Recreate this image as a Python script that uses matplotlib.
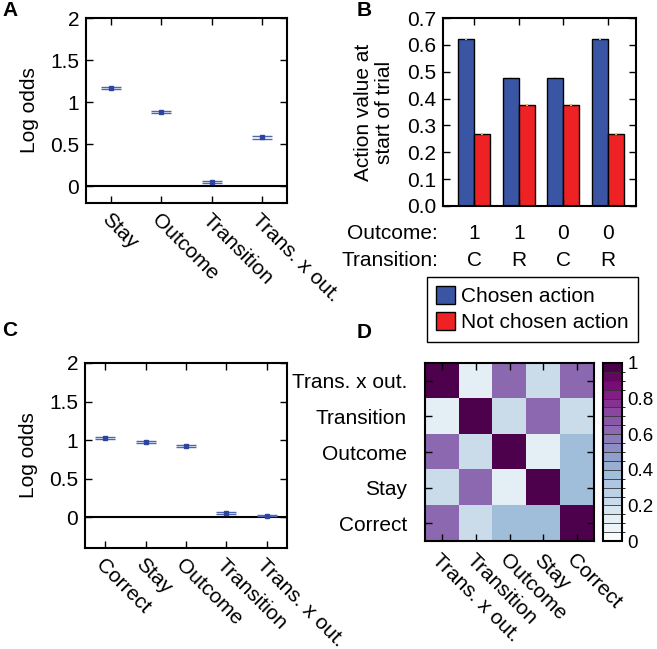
import matplotlib
matplotlib.use('Agg')
import matplotlib.pyplot as plt
import numpy as np
from matplotlib.colors import BoundaryNorm
from matplotlib.patches import Patch

plt.rcParams['font.family'] = ['Liberation Sans', 'DejaVu Sans']
plt.rcParams['font.size'] = 15

# panel A: logistic regression, model data
a_labels = ['Stay', 'Outcome', 'Transition', 'Trans. x out.']
a_vals = [1.17, 0.88, 0.05, 0.58]
a_err = [0.015, 0.015, 0.015, 0.013]

# panel B: action values
b_outcome = ['1', '1', '0', '0']
b_transition = ['C', 'R', 'C', 'R']
b_chosen = [0.62, 0.478, 0.478, 0.62]
b_not_chosen = [0.268, 0.375, 0.375, 0.268]
b_chosen_err = [0.003, 0.003, 0.003, 0.003]
b_not_chosen_err = [0.003, 0.003, 0.003, 0.003]

# panel C: logistic regression with correct predictor
c_labels = ['Correct', 'Stay', 'Outcome', 'Transition', 'Trans. x out.']
c_vals = [1.03, 0.97, 0.92, 0.05, 0.02]
c_err = [0.015, 0.012, 0.015, 0.013, 0.01]

# panel D: predictor correlations
d_labels = ['Trans. x out.', 'Transition', 'Outcome', 'Stay', 'Correct']
d_matrix = np.array([
    [1.00, 0.10, 0.62, 0.22, 0.62],
    [0.10, 1.00, 0.22, 0.62, 0.20],
    [0.62, 0.22, 1.00, 0.10, 0.36],
    [0.22, 0.62, 0.10, 1.00, 0.36],
    [0.62, 0.22, 0.36, 0.36, 1.00],
])

W, H = 657, 649
fig = plt.figure(figsize=(W / 100, H / 100), dpi=100)


def px_axes(l, t, r, b):
    return fig.add_axes([l / W, 1 - b / H, (r - l) / W, (b - t) / H])


def style(ax):
    for s in ax.spines.values():
        s.set_linewidth(1.5)
    ax.tick_params(direction='in', length=5, width=1, top=True, right=True, pad=5)


def fmt_num(v):
    return ('%g' % v)


def log_odds_panel(ax, labels, vals, err, ylim):
    x = np.arange(len(labels))
    ax.axhline(0, color='black', lw=1.5)
    ax.errorbar(x, vals, yerr=err, fmt='s', ms=3, color='#2b45a0',
                ecolor='#4f66b5', elinewidth=0.8, capsize=7.5, capthick=1)
    ax.set_xlim(-0.5, len(labels) - 0.5)
    ax.set_ylim(*ylim)
    ax.set_xticks(x)
    ax.set_xticklabels(labels, rotation=-45, ha='left', va='top',
                       rotation_mode='anchor')
    yt = [0, 0.5, 1, 1.5, 2]
    ax.set_yticks(yt)
    ax.set_yticklabels([fmt_num(v) for v in yt])
    ax.set_ylabel('Log odds', labelpad=8)
    style(ax)


# A
axA = px_axes(86, 18, 287, 203)
log_odds_panel(axA, a_labels, a_vals, a_err, (-0.2, 2))

# B
axB = px_axes(443, 18, 636, 206)
xb = np.arange(len(b_chosen))
bw = 0.36
axB.bar(xb - bw / 2, b_chosen, bw, color='#3a55a4', edgecolor='black', lw=1,
        yerr=b_chosen_err, error_kw=dict(ecolor='#f5b335', elinewidth=1.5, capsize=0))
axB.bar(xb + bw / 2, b_not_chosen, bw, color='#ee2125', edgecolor='black', lw=1,
        yerr=b_not_chosen_err, error_kw=dict(ecolor='#f5b335', elinewidth=1.5, capsize=0))
axB.set_xlim(-0.7, 3.63)
axB.set_ylim(0, 0.7)
yt = np.arange(0, 0.71, 0.1)
axB.set_yticks(yt)
axB.set_yticklabels(['%.1f' % v for v in yt])
axB.set_xticks(xb)
axB.set_xticklabels([])
trans = axB.get_xaxis_transform()
for i in range(len(xb)):
    axB.text(xb[i], -0.145, b_outcome[i], transform=trans, ha='center', va='center')
    axB.text(xb[i], -0.29, b_transition[i], transform=trans, ha='center', va='center')
axB.text(-0.025, -0.145, 'Outcome:', transform=axB.transAxes, ha='right', va='center')
axB.text(-0.025, -0.29, 'Transition:', transform=axB.transAxes, ha='right', va='center')
axB.set_ylabel('Action value at\nstart of trial', labelpad=9, linespacing=1.15)
style(axB)
fig.legend(handles=[Patch(facecolor='#3a55a4', edgecolor='black', label='Chosen action'),
                    Patch(facecolor='#ee2125', edgecolor='black', label='Not chosen action')],
           loc='upper left', bbox_to_anchor=(427 / W, 1 - 277 / H), fontsize=15,
           frameon=True, fancybox=False, edgecolor='black', framealpha=1,
           handlelength=0.9, handleheight=0.9, handletextpad=0.3,
           borderpad=0.45, labelspacing=0.3, borderaxespad=0)

# C
axC = px_axes(85, 363, 287, 548)
log_odds_panel(axC, c_labels, c_vals, c_err, (-0.4, 2))

# D
axD = px_axes(425, 363, 594, 541)
levels = np.linspace(0, 1, 21)
norm = BoundaryNorm(levels, 256)
im = axD.imshow(d_matrix, cmap='BuPu', norm=norm, aspect='auto',
                interpolation='nearest')
n = len(d_labels)
axD.set_xticks(np.arange(n))
axD.set_yticks(np.arange(n))
axD.set_xticklabels(d_labels, rotation=-45, ha='left', va='top',
                    rotation_mode='anchor')
axD.set_yticklabels(d_labels)
style(axD)
axD.tick_params(axis='x', pad=7)
axD.tick_params(axis='y', pad=13)
cax = px_axes(603, 363, 622, 541)
cb = fig.colorbar(im, cax=cax, drawedges=True, ticks=[0, 0.2, 0.4, 0.6, 0.8, 1])
cb.ax.set_yticklabels(['0', '0.2', '0.4', '0.6', '0.8', '1'], fontsize=13.5)
cb.outline.set_linewidth(1.5)
cb.dividers.set_linewidth(0.6)
cb.dividers.set_color('#333333')
cb.ax.tick_params(length=0, pad=4)

# panel letters
for letter, x, y in [('A', 2, 1), ('B', 357, 1), ('C', 2, 321), ('D', 357, 323)]:
    fig.text(x / W, 1 - y / H, letter, fontsize=15, fontweight='bold',
             ha='left', va='top')

fig.savefig('out.png', dpi=100)
